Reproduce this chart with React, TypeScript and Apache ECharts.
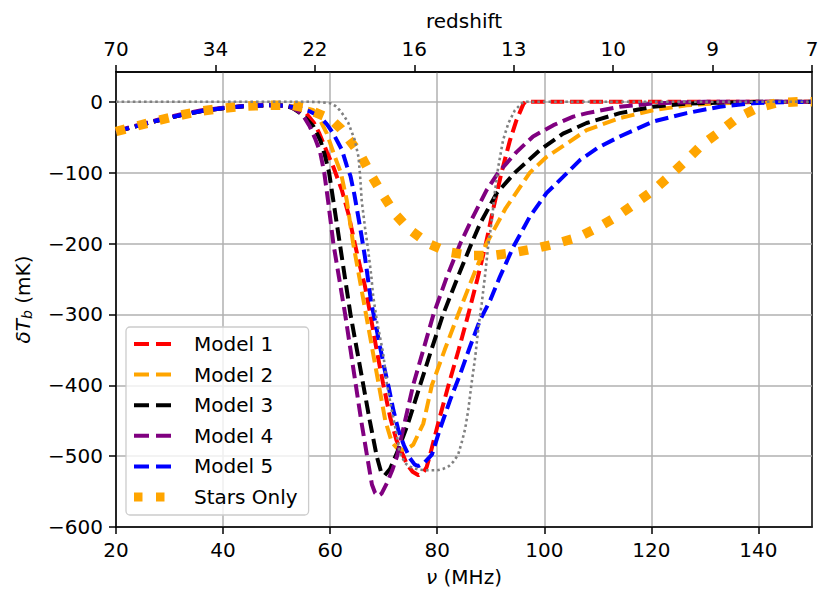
import React, { useEffect, useRef } from 'react';
import * as echarts from 'echarts';

const FONT = 'DejaVu Sans';

// Axis ticks / labels
const freqTicks = [20, 40, 60, 80, 100, 120, 140];
const tbTicks = [-600, -500, -400, -300, -200, -100, 0];
const redshiftLabels = ['70', '34', '22', '16', '13', '10', '9', '7'];
const redshiftTickIdx = [0, 1, 2, 3, 4, 5, 6, 7];

const seriesNames = ['Model 1', 'Model 2', 'Model 3', 'Model 4', 'Model 5', 'Stars Only'];
const seriesColors = ['#ff0000', '#ffa500', '#000000', '#800080', '#0000ff', '#ffa500'];

// Model 1 (red)
const m1Freq = [20, 24, 28, 32, 36, 40, 44, 48, 50, 52, 54, 55.5, 57, 58, 59.4, 60.6, 62.2, 63.4, 64.6, 65.6, 66.5, 67.5, 68.7, 69.9, 71.2, 72.4, 73.7, 74.3, 75.4, 76.5, 77.3, 78.0, 78.6, 80.3, 82.1, 84.0, 85.8, 87.5, 89.1, 90.5, 92.0, 93.6, 94.8, 96.1, 96.5, 100, 110, 120, 130, 140, 150];
const m1Tb = [-42, -34, -26, -19, -13, -9, -6.3, -5, -5, -6, -10, -16, -30, -45, -71, -92, -125, -158, -200, -233, -260, -300, -351, -398, -445, -478, -500, -511, -522, -527, -524, -516, -500, -450, -400, -350, -300, -250, -200, -150, -100, -54, -26, -3, 0, 0, 0, 0, 0, 0, 0];

// Model 2 (orange dashed)
const m2Freq = [20, 24, 28, 32, 36, 40, 44, 48, 50, 52, 54, 55.5, 56.9, 58.2, 59.4, 60.9, 62.0, 63.1, 64.3, 65.5, 66.7, 67.9, 69.1, 70.3, 71.5, 72.5, 73.5, 74.5, 75.5, 77.4, 79.0, 81.4, 83.9, 86.5, 89.2, 92.8, 97.3, 100.4, 104.2, 107.9, 114.1, 120.3, 126.6, 132.8, 140, 150];
const m2Tb = [-42, -34, -26, -19, -13, -9, -6.3, -5, -5, -5.5, -7, -9, -12, -27, -45, -78, -100, -139, -200, -250, -300, -350, -400, -450, -480, -489, -491, -489, -484, -454, -400, -350, -300, -250, -200, -150, -100, -78, -59, -40, -23, -12, -5, -2, -0.5, 0];

// Model 3 (black)
const m3Freq = [20, 24, 28, 32, 36, 40, 44, 48, 50, 51.5, 53, 54.4, 55.7, 56.9, 58.2, 59.0, 59.8, 60.8, 61.8, 62.8, 63.8, 65.0, 66.2, 67.4, 68.7, 69.5, 70.2, 71.2, 72.5, 74.5, 76.8, 78.9, 81.1, 83.7, 86.4, 88.0, 91.1, 94.5, 99.2, 103.5, 107.9, 114.1, 120.3, 126.6, 134, 142, 150];
const m3Tb = [-42, -34, -26, -19, -13, -9, -6.3, -5, -5, -5.5, -9, -16, -25, -35, -55, -75, -100, -150, -200, -250, -300, -350, -400, -450, -500, -522, -527, -518, -495, -455, -400, -350, -300, -250, -200, -172, -129, -100, -68, -45, -30, -16, -7, -2.5, -1, 0, 0];

// Model 4 (purple)
const m4Freq = [20, 24, 28, 32, 36, 40, 44, 48, 50, 51, 52.5, 54, 55, 56.2, 57.2, 58.1, 58.9, 59.7, 60.6, 61.7, 62.8, 63.8, 64.8, 65.8, 66.9, 67.8, 68.4, 69.0, 69.6, 70.6, 71.6, 72.5, 74.0, 75.5, 77.4, 79.3, 81.8, 84.3, 86.7, 89.2, 91.4, 94.8, 97.9, 101.7, 105.4, 108, 114.1, 120.3, 125, 130, 150];
const m4Tb = [-41, -33, -25, -18, -12, -8.5, -6, -4.5, -4.5, -5.5, -7, -13, -20, -35, -52, -70, -100, -145, -200, -250, -300, -350, -400, -450, -500, -540, -552, -556, -553, -538, -520, -500, -450, -400, -350, -300, -247, -200, -162, -125, -100, -71, -49, -33, -21, -16, -7, -2.5, -1, 0, 0];

// Model 5 (blue)
const m5Freq = [20, 24, 28, 32, 36, 40, 44, 48, 50, 52, 54.4, 56.3, 58.1, 59.4, 60.6, 62.2, 63.1, 63.8, 64.5, 65.2, 65.9, 66.5, 67.1, 67.7, 68.4, 69.3, 70.1, 71.0, 71.8, 72.8, 73.8, 74.9, 75.8, 76.5, 77.5, 79.0, 80.5, 82.4, 84.3, 86.1, 88.0, 89.9, 91.7, 94.2, 97.3, 100.4, 103.5, 106.7, 110, 114.1, 120.3, 126.6, 132.8, 139, 145, 150];
const m5Tb = [-42, -34, -26, -19, -13, -9, -6.3, -5, -5, -6, -9, -14, -21, -32, -45, -68, -90, -105, -130, -160, -191, -219, -252, -285, -310, -345, -375, -405, -435, -465, -485, -503, -512, -514, -510, -498, -462, -421, -384, -346, -308, -280, -247, -205, -162, -129, -106, -82, -65, -49, -28, -16, -7, -2, -0.5, 0];

// Stars Only (orange dotted)
const sFreq = [20, 24, 28, 32, 36, 40, 44, 48, 50, 53, 55, 56.9, 58.8, 60.6, 62.0, 63.4, 64.7, 65.9, 67.7, 69.9, 72.1, 74.6, 78.3, 82.1, 86.1, 90.2, 94.2, 98.3, 102.3, 106.4, 110.1, 113.5, 116.9, 120.4, 123.5, 126.6, 129.4, 132.8, 136.0, 139.7, 143.7, 147.8, 150];
const sTb = [-42, -34, -26, -19, -13, -9, -6.3, -5, -5, -5, -8, -14, -20, -28, -38, -52, -65, -78, -104, -132, -158, -179, -200, -212, -217, -217, -213, -207, -200, -191, -177, -162, -144, -125, -104, -82, -61, -42, -23, -9, -1, 0, 0];

// Unlabelled grey dotted curve
const gFreq = [20, 56, 58, 60, 61, 61.8, 62.6, 63.4, 64.0, 64.6, 65.3, 65.6, 65.9, 66.5, 67.1, 67.7, 68.0, 68.7, 69.9, 70.6, 71.5, 72.4, 73.0, 74.0, 74.9, 76.5, 78.0, 80.0, 81.1, 82.2, 83.0, 83.9, 84.6, 85.2, 85.8, 86.4, 87.1, 87.7, 88.3, 88.9, 89.5, 90.2, 90.8, 91.4, 92.3, 93.3, 94.5, 95.8, 96.5, 150];
const gTb = [0, 0, -0.5, -2, -6, -12, -20, -30, -42, -54, -78, -105, -140, -177, -209, -247, -272, -308, -355, -398, -435, -468, -495, -510, -515, -519, -520, -520, -518, -514, -508, -498, -480, -462, -435, -398, -360, -318, -285, -247, -205, -167, -125, -92, -54, -30, -12, -2, 0, 0];

const zip = (f: number[], t: number[]) => f.map((x, i) => [x, t[i]]);
const fmtNum = (v: number) => (v < 0 ? '\u2212' + Math.abs(v) : String(v));

const dashIcon = 'path://M0,0h0.01v0.01h-0.01z M0,3h15v4h-15z M22,3h15v4h-15z M36.99,9.99h0.01v0.01h-0.01z';
const starsIcon = 'path://M0,0.5h8.5v9h-8.5z M22,0.5h8.5v9h-8.5z M36.99,0h0.01v0.01h-0.01z M0,9.99h0.01v0.01h-0.01z';

export default function App() {
  const ref = useRef<HTMLDivElement>(null);
  useEffect(() => {
    if (!ref.current) return;
    const chart = echarts.init(ref.current, undefined, { renderer: 'svg' });
    const dataSets = [
      zip(m1Freq, m1Tb),
      zip(m2Freq, m2Tb),
      zip(m3Freq, m3Tb),
      zip(m4Freq, m4Tb),
      zip(m5Freq, m5Tb),
      zip(sFreq, sTb),
    ];
    const dashed = [13.5, 6];
    const series: any[] = dataSets.map((d, i) => ({
      name: seriesNames[i],
      type: 'line',
      data: d,
      color: seriesColors[i],
      showSymbol: false,
      symbol: 'none',
      silent: true,
      itemStyle: { color: seriesColors[i] },
      lineStyle: i === 5
        ? { color: seriesColors[i], width: 9.5, type: [9.5, 13], cap: 'butt' }
        : { color: seriesColors[i], width: 4, type: dashed, cap: 'butt' },
      z: 2 + i,
    }));
    series.push({
      name: 'unlabelled',
      type: 'line',
      data: zip(gFreq, gTb),
      color: '#808080',
      showSymbol: false,
      symbol: 'none',
      silent: true,
      lineStyle: { color: '#808080', width: 2.6, type: [2.6, 3], cap: 'butt' },
      z: 10,
    });

    const axisText = { fontFamily: FONT, fontSize: 20, color: '#000' };

    chart.setOption({
      animation: false,
      textStyle: { fontFamily: FONT },
      grid: {
        left: 116, right: 24, top: 72, bottom: 79,
        show: true, borderColor: '#000', borderWidth: 1.5, backgroundColor: 'transparent',
      },
      legend: {
        data: seriesNames.map((n, i) => ({ name: n, icon: i === 5 ? starsIcon : dashIcon })),
        orient: 'vertical',
        left: 126,
        top: 327,
        itemWidth: 37,
        itemHeight: 10,
        itemGap: 10.6,
        padding: [7, 11, 8, 8],
        backgroundColor: 'rgba(255,255,255,0.8)',
        borderColor: '#cccccc',
        borderWidth: 1.3,
        borderRadius: 4,
        selectedMode: false,
        itemStyle: { borderWidth: 0 },
        textStyle: { fontFamily: FONT, fontSize: 20, color: '#000', lineHeight: 20, padding: [0, 0, 0, 18] },
      },
      xAxis: [
        {
          type: 'value',
          min: 20,
          max: 150,
          interval: 20,
          position: 'bottom',
          name: '{i|\u03bd}{n| (MHz)}',
          nameLocation: 'middle',
          nameGap: 40,
          nameTextStyle: {
            rich: {
              i: { fontFamily: FONT, fontSize: 20, fontStyle: 'italic', color: '#000' },
              n: { fontFamily: FONT, fontSize: 20, color: '#000' },
            },
          },
          axisLine: { show: true, onZero: false, lineStyle: { color: '#000', width: 1.5 } },
          axisTick: { show: true, length: 7, lineStyle: { color: '#000', width: 1.5 }, customValues: freqTicks },
          axisLabel: {
            ...axisText,
            margin: 13,
            customValues: freqTicks,
            formatter: (v: number) => (v > 140 ? '' : fmtNum(v)),
          },
          splitLine: { show: true, lineStyle: { color: '#b0b0b0', width: 1.5 } },
        },
        {
          type: 'value',
          min: 0,
          max: 7,
          interval: 1,
          position: 'top',
          name: 'redshift',
          nameLocation: 'middle',
          nameGap: 41,
          nameTextStyle: { fontFamily: FONT, fontSize: 20, color: '#000' },
          axisLine: { show: true, onZero: false, lineStyle: { color: '#000', width: 1.5 } },
          axisTick: { show: true, length: 7, lineStyle: { color: '#000', width: 1.5 }, customValues: redshiftTickIdx },
          axisLabel: {
            ...axisText,
            margin: 13,
            customValues: redshiftTickIdx,
            formatter: (v: number) => redshiftLabels[Math.round(v)] ?? '',
          },
          splitLine: { show: false },
        },
      ],
      yAxis: {
        type: 'value',
        min: -600,
        max: 42,
        interval: 100,
        name: '{i|\u03b4T}{s|b}{n| (mK)}',
        nameLocation: 'middle',
        nameRotate: 90,
        nameGap: 82,
        nameTextStyle: {
          rich: {
            i: { fontFamily: FONT, fontSize: 20, fontStyle: 'italic', color: '#000', lineHeight: 22 },
            s: { fontFamily: FONT, fontSize: 14, fontStyle: 'italic', color: '#000', lineHeight: 10, verticalAlign: 'bottom' },
            n: { fontFamily: FONT, fontSize: 20, color: '#000', lineHeight: 22 },
          },
        },
        axisLine: { show: true, onZero: false, lineStyle: { color: '#000', width: 1.5 } },
        axisTick: { show: true, length: 7, lineStyle: { color: '#000', width: 1.5 }, customValues: tbTicks },
        axisLabel: {
          ...axisText,
          margin: 13,
          customValues: tbTicks,
          formatter: (v: number) => (v > 0 ? '' : fmtNum(v)),
        },
        splitLine: { show: true, lineStyle: { color: '#b0b0b0', width: 1.5 } },
      },
      series,
    });
    return () => chart.dispose();
  }, []);
  return (
    <div
      ref={ref}
      style={{ position: 'fixed', left: 0, top: 0, width: 836, height: 606, background: '#fff' }}
    />
  );
}
